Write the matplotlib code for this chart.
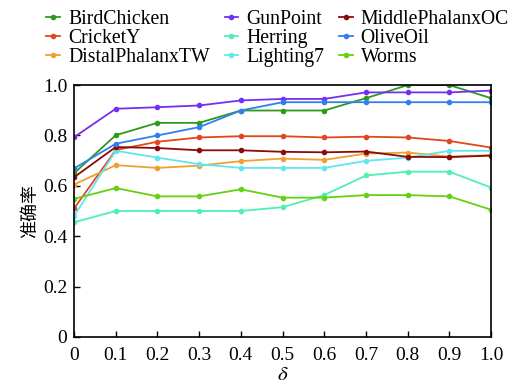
import numpy as np
import matplotlib
matplotlib.use("Agg")
import matplotlib.pyplot as plt

plt.rcParams['font.family'] = ['Liberation Serif', 'Noto Sans CJK SC']
plt.rcParams['mathtext.fontset'] = 'stix'

delta = [0, 0.1, 0.2, 0.3, 0.4, 0.5, 0.6, 0.7, 0.8, 0.9, 1.0]

bird_chicken = [0.650, 0.801, 0.850, 0.850, 0.899, 0.899, 0.899, 0.948, 1.0, 1.0, 0.948]
cricket_y = [0.510, 0.742, 0.775, 0.792, 0.797, 0.797, 0.792, 0.795, 0.792, 0.778, 0.752]
distal_tw = [0.605, 0.682, 0.671, 0.680, 0.698, 0.708, 0.703, 0.728, 0.732, 0.716, 0.722]
gun_point = [0.793, 0.906, 0.912, 0.919, 0.939, 0.945, 0.945, 0.971, 0.971, 0.971, 0.978]
herring = [0.455, 0.500, 0.500, 0.500, 0.500, 0.515, 0.563, 0.641, 0.656, 0.656, 0.593]
lighting7 = [0.480, 0.739, 0.712, 0.686, 0.671, 0.671, 0.671, 0.699, 0.712, 0.739, 0.739]
middle_oc = [0.634, 0.754, 0.750, 0.741, 0.741, 0.735, 0.733, 0.736, 0.715, 0.714, 0.720]
olive_oil = [0.669, 0.767, 0.800, 0.833, 0.899, 0.932, 0.932, 0.932, 0.932, 0.932, 0.932]
worms = [0.548, 0.591, 0.558, 0.558, 0.586, 0.553, 0.553, 0.563, 0.563, 0.558, 0.505]

series = [
    ("BirdChicken", bird_chicken, "#2e9a1c"),
    ("CricketY", cricket_y, "#e2461e"),
    ("DistalPhalanxTW", distal_tw, "#eea030"),
    ("GunPoint", gun_point, "#7430f0"),
    ("Herring", herring, "#50f0b0"),
    ("Lighting7", lighting7, "#60e6f0"),
    ("MiddlePhalanxOC", middle_oc, "#8b0a0a"),
    ("OliveOil", olive_oil, "#2f80ee"),
    ("Worms", worms, "#66d012"),
]

fig = plt.figure(figsize=(5.18, 3.85), dpi=100)
ax = fig.add_axes([0.143, 0.125, 0.805, 0.654])

for name, vals, col in series:
    ax.plot(delta, vals, "-o", color=col, lw=1.3, ms=3, label=name)

ax.set_xlim(0, 1.0)
ax.set_ylim(0, 1.0)
ax.set_xticks(delta)
ax.set_xticklabels(["0", "0.1", "0.2", "0.3", "0.4", "0.5", "0.6", "0.7", "0.8", "0.9", "1.0"])
ax.set_yticks([0, 0.2, 0.4, 0.6, 0.8, 1.0])
ax.set_yticklabels(["0", "0.2", "0.4", "0.6", "0.8", "1.0"])
ax.tick_params(direction="in", labelsize=14, length=4, width=1, top=False, right=False, pad=5)
ax.tick_params(axis="x", pad=7)
for s in ax.spines.values():
    s.set_linewidth(1.2)
ax.set_xlabel(r"$\delta$", fontsize=15, labelpad=2)
ax.set_ylabel("准确率", fontsize=13, family=['Noto Sans CJK SC'], labelpad=3)

fig.legend(loc="upper left", bbox_to_anchor=(0.063, 1.01), ncol=3, frameon=False,
           fontsize=14.2, handlelength=0.7, handletextpad=0.4, labelspacing=0.0,
           columnspacing=0.75, borderpad=0.2)

fig.savefig("out.png", dpi=100)
